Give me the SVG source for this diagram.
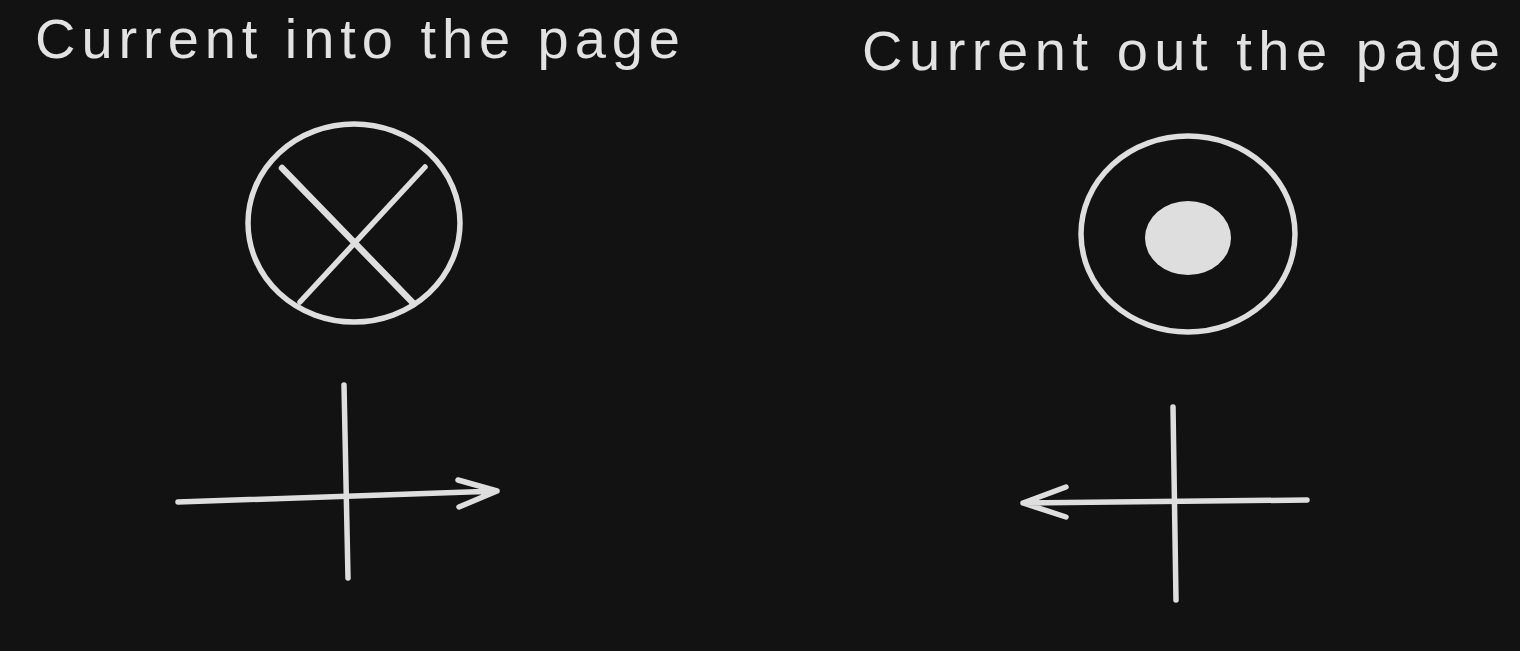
<svg xmlns="http://www.w3.org/2000/svg" width="1520" height="651" viewBox="0 0 1520 651">
<defs>
<style>
.s{fill:none;stroke:#dedede;stroke-width:5.5;stroke-linecap:round;stroke-linejoin:round}
.t{fill:#e2e2e2;font-family:"Liberation Sans","DejaVu Sans",sans-serif;font-size:56px}
</style>
</defs>
<rect width="1520" height="651" fill="#121212"/>
<g id="label-into">
<text class="t" x="35" y="58" textLength="645" lengthAdjust="spacing">Current into the page</text>
</g>
<g id="label-out">
<text class="t" x="862" y="70" textLength="638" lengthAdjust="spacing">Current out the page</text>
</g>
<g id="symbol-into">
<ellipse class="s" cx="354" cy="223" rx="106" ry="99"/>
<line class="s" x1="282" y1="168" x2="414" y2="304" style="stroke-width:6.5"/>
<line class="s" x1="425" y1="167" x2="300" y2="302"/>
</g>
<g id="symbol-out">
<ellipse class="s" cx="1188" cy="234" rx="107" ry="98"/>
<ellipse cx="1188" cy="238" rx="43" ry="37" fill="#dedede"/>
</g>
<g id="connectors">
<line class="s" x1="344" y1="385" x2="348" y2="578"/>
<path class="s" d="M178 502 L497 491 M458 480 L497 491 L459 507"/>
<line class="s" x1="1173" y1="407" x2="1176" y2="600"/>
<path class="s" d="M1307 500 L1023 503 M1066 487 L1023 503 L1066 517"/>
</g>
</svg>
